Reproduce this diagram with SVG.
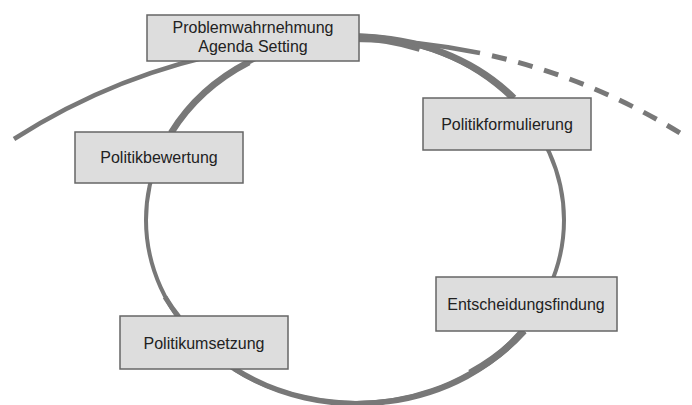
<svg xmlns="http://www.w3.org/2000/svg" width="692" height="405" viewBox="0 0 692 405">
<style>
.ln{fill:none;stroke:#787878;stroke-linecap:butt}
.box{fill:#dddddd;stroke:#666666;stroke-width:1.5}
.t{font-family:"Liberation Sans",Arial,sans-serif;font-size:16px;fill:#222222;text-anchor:middle}
</style>
<rect width="692" height="405" fill="#ffffff"/>
<g id="connectors">
<ellipse class="ln" cx="355" cy="220" rx="209" ry="183" stroke-width="4"/>
<path class="ln" stroke-width="6.5" d="M355 37 A209 183 0 0 1 514 98"/>
<path class="ln" stroke-width="8" d="M355 37 A209 183 0 0 1 420 48"/>
<path class="ln" stroke-width="5.5" d="M524 331 A209 183 0 0 1 235 369"/>
<path class="ln" stroke-width="7" d="M524 331 A209 183 0 0 1 470 373"/>
<path class="ln" stroke-width="6.5" d="M171 133 A209 183 0 0 1 249 62"/>
<path class="ln" stroke-width="5" d="M179 317 A209 183 0 0 1 165 297"/>
<path class="ln" stroke-width="4.5" d="M14 139 A626 626 0 0 1 480 53"/>
<path class="ln" stroke-width="5" stroke-dasharray="15 12" d="M492 55.7 A626 626 0 0 1 682 134.3"/>
</g>
<g id="n-problem">
<rect class="box" x="147" y="15" width="212" height="46"/>
<text class="t" x="253" y="33">Problemwahrnehmung</text>
<text class="t" x="253" y="52">Agenda Setting</text>
</g>
<g id="n-formulierung">
<rect class="box" x="423" y="98" width="168" height="52"/>
<text class="t" x="507" y="130">Politikformulierung</text>
</g>
<g id="n-entscheidung">
<rect class="box" x="436" y="277" width="181" height="54"/>
<text class="t" x="526" y="310">Entscheidungsfindung</text>
</g>
<g id="n-umsetzung">
<rect class="box" x="120" y="316" width="168" height="53"/>
<text class="t" x="204" y="349">Politikumsetzung</text>
</g>
<g id="n-bewertung">
<rect class="box" x="75" y="132" width="168" height="51"/>
<text class="t" x="159" y="163">Politikbewertung</text>
</g>
</svg>
